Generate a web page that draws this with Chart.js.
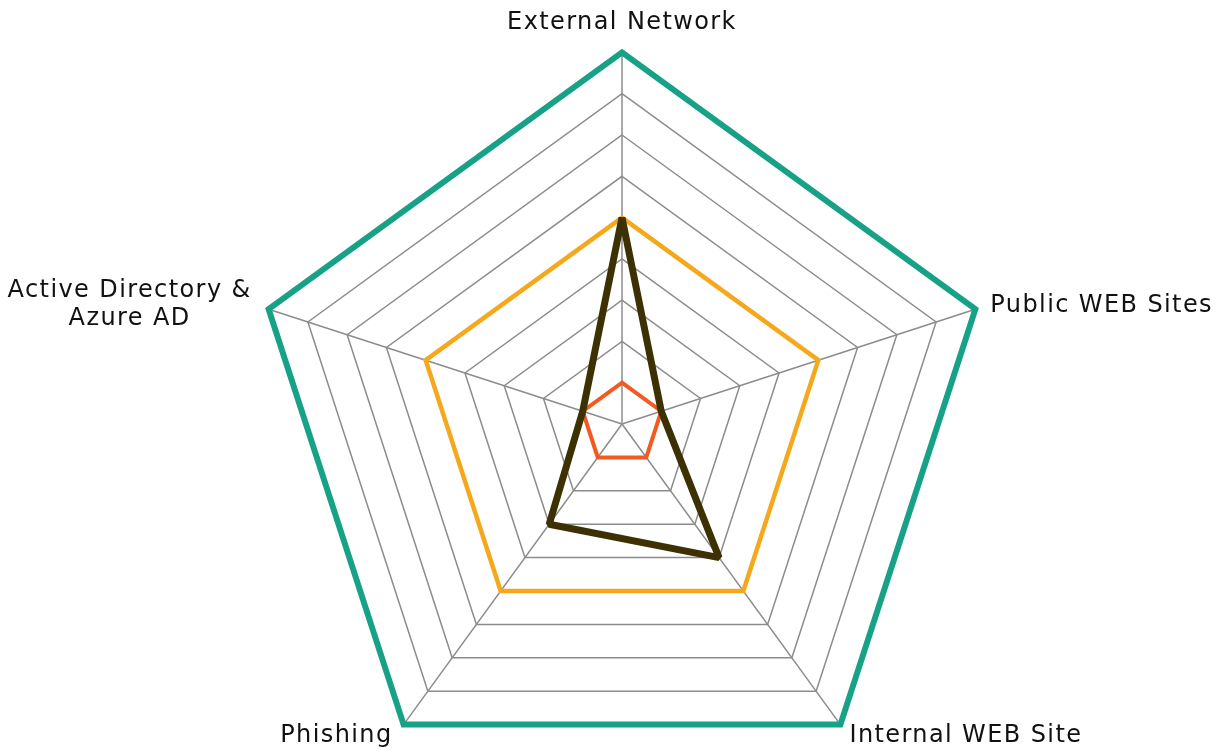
<!DOCTYPE html>
<html>
<head>
<meta charset="utf-8">
<script src="https://cdn.jsdelivr.net/npm/chart.js@4/dist/chart.umd.min.js"></script>
<style>
  html, body { margin: 0; padding: 0; background: #fff; overflow: hidden; }
  #wrap { width: 1222px; height: 751px; position: relative; overflow: hidden; }
  /* the plot runs right up to the page edges in the original, so the canvas is a bit larger than the page */
  #inner { position: absolute; left: -100px; top: 0; width: 1444px; height: 813px; }
</style>
</head>
<body>
<div id="wrap"><div id="inner"><canvas id="radarChart"></canvas></div></div>
<script>
// categories (axes), clockwise from the top
const categories = [
  "External Network",
  "Public WEB Sites",
  "Internal WEB Site",
  "Phishing",
  ["Active Directory &", "Azure AD"]
];

// series values (0..9)
const currentScores = [5, 1, 4, 3, 1];
const baselineScores = [1, 1, 1, 1, 1];
const targetScores = [5, 5, 5, 5, 5];
const maximumScores = [9, 9, 9, 9, 9];

const scaleMax = 9;

// nudge the axis labels next to their vertex, like the original layout
// align: text alignment, dx/dy: offset from the vertex, rightEdge: dx is the right edge of a centred block
const labelPlacement = [
  { align: "center", dx: 0, dy: -44 },
  { align: "left", dx: 15, dy: -18 },
  { align: "left", dx: 9, dy: -3 },
  { align: "right", dx: -11, dy: -3 },
  { align: "center", dx: -17, dy: -33, rightEdge: true }
];

const labelNudge = {
  id: "labelNudge",
  beforeUpdate(chart) {
    chart.ctx.letterSpacing = "1.4px";
  },
  beforeDraw(chart) {
    chart.ctx.letterSpacing = "1.4px";
    const scale = chart.scales.r;
    const items = scale._pointLabelItems;
    if (!items) return;
    items.forEach(function (item, i) {
      const p = labelPlacement[i];
      const v = scale.getPointPosition(i, scale.drawingArea);
      const w = item.right - item.left;
      let x = v.x + p.dx;
      if (p.rightEdge) x -= w / 2;
      item.x = x;
      item.y = v.y + p.dy;
      item.textAlign = p.align;
    });
  }
};

//-------------
//- RADAR CHART -
//-------------
const ctx = document.getElementById("radarChart").getContext("2d");

const radarData = {
  labels: categories,
  datasets: [
    {
      label: "Current",
      data: currentScores,
      borderColor: "#3d3104",
      borderWidth: 7,
      borderJoinStyle: "bevel",
      fill: false,
      pointRadius: 0
    },
    {
      label: "Baseline",
      data: baselineScores,
      borderColor: "#f15a22",
      borderWidth: 4,
      fill: false,
      pointRadius: 0
    },
    {
      label: "Target",
      data: targetScores,
      borderColor: "#f5a81c",
      borderWidth: 4.5,
      fill: false,
      pointRadius: 0
    },
    {
      label: "Maximum",
      data: maximumScores,
      borderColor: "#17a187",
      borderWidth: 6,
      fill: false,
      pointRadius: 0
    }
  ]
};

const radarOptions = {
  responsive: true,
  maintainAspectRatio: false,
  animation: false,
  layout: { padding: { top: 3 } },
  plugins: {
    legend: { display: false },
    tooltip: { enabled: false }
  },
  elements: {
    line: { tension: 0, borderJoinStyle: "miter" }
  },
  scales: {
    r: {
      min: 0,
      max: scaleMax,
      ticks: { display: false, stepSize: 1 },
      grid: { color: "#8c8c8c", lineWidth: 1.5 },
      angleLines: { color: "#8c8c8c", lineWidth: 1.5 },
      pointLabels: {
        color: "#111",
        padding: 5,
        font: { family: "'DejaVu Sans'", size: 24, lineHeight: 1.185 }
      }
    }
  }
};

new Chart(ctx, {
  type: "radar",
  data: radarData,
  options: radarOptions,
  plugins: [labelNudge]
});
</script>
</body>
</html>
